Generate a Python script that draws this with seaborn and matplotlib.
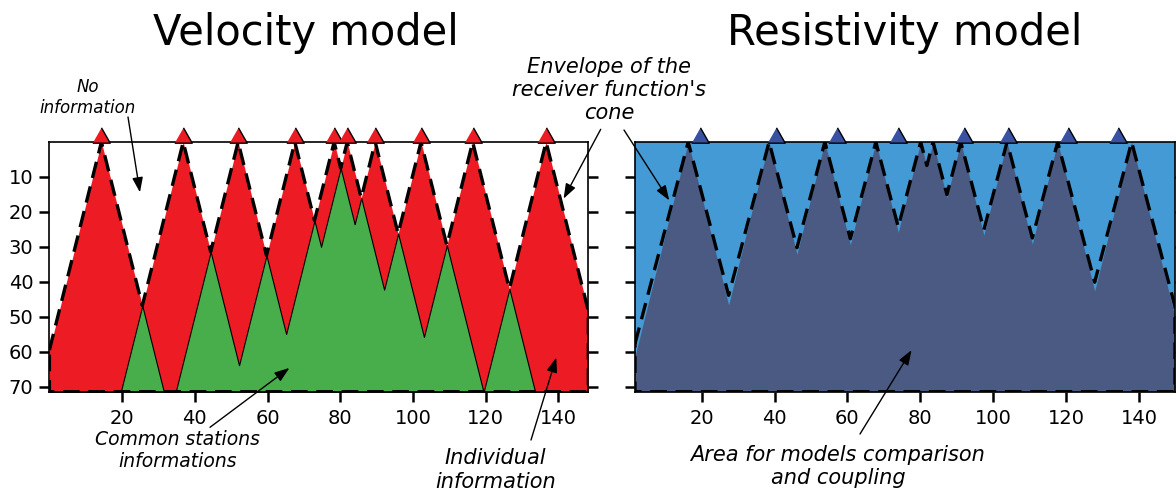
import numpy as np
import matplotlib
matplotlib.use("Agg")
import matplotlib.pyplot as plt
import matplotlib.transforms as mtransforms
import seaborn as sns

# ---------------- data ----------------
vel_stations = [14.3, 36.8, 51.9, 67.5, 78.3, 81.9, 89.6, 102.2, 116.4, 136.6]
res_cones = [16.3, 38.5, 53.8, 67.8, 80.1, 83.5, 91.1, 103.8, 117.7, 138.0]
res_stations = [19.5, 40.4, 57.1, 73.8, 92.0, 104.1, 120.6, 134.2]
x_ticks = [20, 40, 60, 80, 100, 120, 140]
y_ticks = [10, 20, 30, 40, 50, 60, 70]
depth_max = 71.4
vel_slope = 4.16
res_fill_slope = 4.2
res_env_slope = 3.95
titles = ["Velocity model", "Resistivity model"]

RED = "#ed1c24"
GREEN = "#48ad4b"
LBLUE = "#449ad4"
DBLUE = "#4a5a82"
TRI_BLUE = "#3a51a2"

sns.set_theme(style="ticks")
plt.rcParams["font.family"] = ["DejaVu Sans"]
plt.rcParams["text.color"] = "black"

fig = plt.figure(figsize=(11.76, 4.93), dpi=100)
axL = fig.add_axes([49.4 / 1176, 1 - 391.7 / 493, 538.9 / 1176, 249.7 / 493])
axR = fig.add_axes([635 / 1176, 1 - 391.7 / 493, 540 / 1176, 249.7 / 493])
xlims = {axL: (0, 148.2), axR: (1.7, 149.9)}


def grid(xlim, apexes):
    a = np.asarray(apexes)
    mids = (a[1:] + a[:-1]) / 2
    return np.unique(np.concatenate([np.linspace(xlim[0], xlim[1], 20001), a, mids]))


def depths(x, apexes, slope):
    d = np.sort(np.abs(x[:, None] - np.asarray(apexes)[None, :]) * slope, axis=1)
    return np.minimum(d, depth_max)


def envelope(ax, x, env):
    px = np.concatenate([x, [x[-1], x[0], x[0]]])
    py = np.concatenate([env, [depth_max, depth_max, env[0]]])
    sns.lineplot(x=px, y=py, ax=ax, sort=False, estimator=None, color="black",
                 lw=2.4, linestyle=(0, (5, 2.6)), zorder=4)


# ---- left panel: velocity ----
xl = grid(xlims[axL], vel_stations)
dl = depths(xl, vel_stations, vel_slope)
axL.set_facecolor("white")
axL.fill_between(xl, dl[:, 0], depth_max, color=RED, lw=0, zorder=1)
axL.fill_between(xl, dl[:, 1], depth_max, facecolor=GREEN, edgecolor="black", lw=0.8, zorder=2)
envelope(axL, xl, dl[:, 0])

# ---- right panel: resistivity ----
xr = grid(xlims[axR], res_cones)
dr_fill = depths(xr, res_cones, res_fill_slope)
dr_env = depths(xr, res_cones, res_env_slope)
axR.set_facecolor(LBLUE)
axR.fill_between(xr, dr_fill[:, 0], depth_max, color=DBLUE, lw=0, zorder=1)
envelope(axR, xr, dr_env[:, 0])

tri = [(-0.57, -0.5), (0.57, -0.5), (0.0, 0.5)]
for ax, st, col in [(axL, vel_stations, RED), (axR, res_stations, TRI_BLUE)]:
    tr = mtransforms.offset_copy(ax.transData, fig=fig, x=0, y=7.5, units="dots")
    ax.plot(st, np.zeros(len(st)), ls="none", marker=tri, ms=12.6, mfc=col,
            mec="black", mew=1.0, clip_on=False, transform=tr, zorder=6)

for ax in (axL, axR):
    ax.set_xlim(*xlims[ax])
    ax.set_ylim(depth_max, 0)
    ax.set_xticks(x_ticks)
    ax.set_yticks(y_ticks)
    ax.set_xlabel("")
    ax.set_ylabel("")
    ax.grid(False)
    for s in ax.spines.values():
        s.set_visible(True)
        s.set_linewidth(1.2)
        s.set_color("black")
        s.set_zorder(5)
    ax.tick_params(axis="both", direction="out", length=7.5, width=1.8, color="black",
                   labelsize=14, labelcolor="black", left=True, right=True, bottom=True,
                   top=False, pad=4)
    ax.tick_params(axis="x", pad=5)
axR.tick_params(axis="y", labelleft=False)

fig.text(306 / 1176, 1 - 44.5 / 493, titles[0], fontsize=30, ha="center", va="baseline", color="black")
fig.text(904.5 / 1176, 1 - 44.5 / 493, titles[1], fontsize=30, ha="center", va="baseline", color="black")

ital = dict(style="italic", ha="center", va="center", color="black")
fig.text(88 / 1176, 1 - 97.5 / 493, "No\ninformation", fontsize=12, **ital)
fig.text(609 / 1176, 1 - 90 / 493, "Envelope of the\nreceiver function's\ncone", fontsize=15, **ital)
fig.text(177.5 / 1176, 1 - 450.7 / 493, "Common stations\ninformations", fontsize=13.5, **ital)
fig.text(495.3 / 1176, 1 - 470 / 493, "Individual\ninformation", fontsize=15, **ital)
fig.text(838 / 1176, 1 - 466.3 / 493, "Area for models comparison\nand coupling", fontsize=15, **ital)

arrows = [
    (axL, (24.9, 14.4), (128, 117)),
    (axL, (141.4, 16.2), (600.7, 129.3)),
    (axR, (11.1, 16.7), (624, 130)),
    (axL, (66.0, 64.6), (210, 427.3)),
    (axL, (139.4, 61.6), (531, 440)),
    (axR, (77.6, 59.5), (860, 434)),
]
for ax, tip, start in arrows:
    ax.annotate("", xy=tip, xycoords="data",
                xytext=(start[0] / 1176, 1 - start[1] / 493), textcoords="figure fraction",
                arrowprops=dict(arrowstyle="-|>,head_length=0.5,head_width=0.18", color="black",
                                lw=1.0, mutation_scale=18, shrinkA=0, shrinkB=0),
                annotation_clip=False, zorder=7)

fig.savefig("out.png", dpi=100)
